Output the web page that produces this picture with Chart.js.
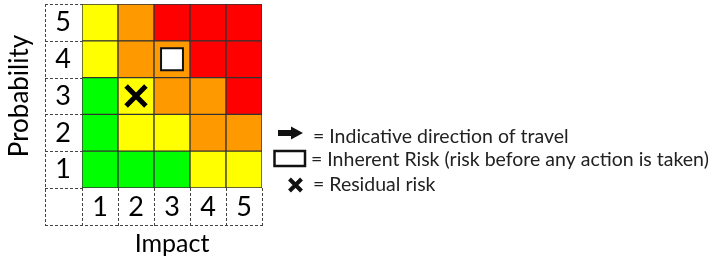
<!DOCTYPE html>
<html lang="en">
<head>
  <meta charset="UTF-8">
  <title>Risk matrix</title>
  <script src="https://cdn.jsdelivr.net/npm/chart.js"></script>
  <style>
    html, body { margin: 0; padding: 0; background: #fff; }
    #chartContainer { position: relative; width: 713px; height: 263px; }
  </style>
</head>
<body>

  <div id="chartContainer">
    <canvas id="riskChart"></canvas>
  </div>

  <script>
    // axis categories
    const impactLabels = ['1', '2', '3', '4', '5'];
    const probabilityLabels = ['1', '2', '3', '4', '5'];

    // rating of each cell, one list per probability row, impact 1 -> 5
    const prob1 = ['low', 'low', 'low', 'medium', 'medium'];
    const prob2 = ['low', 'medium', 'medium', 'high', 'high'];
    const prob3 = ['low', 'medium', 'high', 'high', 'severe'];
    const prob4 = ['medium', 'high', 'high', 'severe', 'severe'];
    const prob5 = ['medium', 'high', 'severe', 'severe', 'severe'];
    const ratingColours = { low: '#00ff00', medium: '#ffff00', high: '#ff9900', severe: '#ff0000' };

    // where the risk sits
    const inherentRisk = { impact: '3', probability: 4 };
    const residualRisk = { impact: '2', probability: 3 };

    const legendTexts = [
      '= Indicative direction of travel',
      '= Inherent Risk (risk before any action is taken)',
      '= Residual risk'
    ];

    const FONT = 'Lato, "DejaVu Sans", sans-serif';
    const rows = [prob1, prob2, prob3, prob4, prob5];

    // one stacked bar per probability row, each one probability step tall
    const cellDatasets = rows.map((row, i) => ({
      type: 'bar',
      label: 'Probability ' + probabilityLabels[i],
      data: impactLabels.map(() => 1),
      backgroundColor: row.map(r => ratingColours[r]),
      borderColor: '#333',
      borderWidth: 1,
      borderSkipped: false,
      barPercentage: 1,
      categoryPercentage: 1,
      yAxisID: 'y',
      order: 2
    }));

    const markerDatasets = [
      {
        type: 'scatter',
        label: 'Inherent Risk',
        data: [{ x: inherentRisk.impact, y: inherentRisk.probability - 0.5 }],
        pointStyle: 'rect',
        pointRadius: 15.5,
        backgroundColor: '#fff',
        borderColor: '#111',
        borderWidth: 2,
        yAxisID: 'yMark',
        order: 1
      },
      {
        type: 'scatter',
        label: 'Residual risk',
        data: [{ x: residualRisk.impact, y: residualRisk.probability - 0.5 }],
        pointStyle: 'crossRot',
        pointRadius: 14,
        borderColor: '#000',
        borderWidth: 5,
        yAxisID: 'yMark',
        order: 1
      }
    ];

    // dashed boxes round the axis labels
    const labelBoxes = {
      id: 'labelBoxes',
      afterDraw(chart) {
        const ctx = chart.ctx;
        const a = chart.chartArea;
        const y = chart.scales.y;
        const boxLeft = a.left - 37;
        const boxBottom = a.bottom + 38;
        const cellW = (a.right - a.left) / impactLabels.length;
        ctx.save();
        ctx.strokeStyle = '#444';
        ctx.lineWidth = 1;
        ctx.setLineDash([3, 2]);
        ctx.beginPath();
        for (let k = 0; k <= probabilityLabels.length; k++) {
          const py = Math.round(y.getPixelForValue(k)) + 0.5;
          ctx.moveTo(boxLeft, py);
          ctx.lineTo(a.left, py);
        }
        ctx.moveTo(boxLeft + 0.5, a.top);
        ctx.lineTo(boxLeft + 0.5, boxBottom);
        ctx.moveTo(boxLeft, boxBottom - 0.5);
        ctx.lineTo(a.right, boxBottom - 0.5);
        for (let i = 0; i <= impactLabels.length; i++) {
          const px = Math.round(a.left + i * cellW) + 0.5;
          ctx.moveTo(px, a.bottom);
          ctx.lineTo(px, boxBottom);
        }
        ctx.stroke();
        ctx.restore();
      }
    };

    // legend on the right
    const keyLegend = {
      id: 'keyLegend',
      afterDraw(chart) {
        const ctx = chart.ctx;
        const rowY = [136.5, 160, 185];
        const textX = [313, 311, 313];
        ctx.save();
        ctx.fillStyle = '#111';
        ctx.strokeStyle = '#111';

        // arrow
        const ay = 133;
        ctx.beginPath();
        ctx.moveTo(278, ay - 3);
        ctx.lineTo(291, ay - 3);
        ctx.lineTo(291, ay - 6.5);
        ctx.lineTo(303, ay);
        ctx.lineTo(291, ay + 6.5);
        ctx.lineTo(291, ay + 3);
        ctx.lineTo(278, ay + 3);
        ctx.closePath();
        ctx.fill();

        // rectangle
        ctx.lineWidth = 2.5;
        ctx.fillStyle = '#fff';
        ctx.fillRect(274.5, 151, 30.5, 15);
        ctx.strokeRect(274.5, 151, 30.5, 15);

        // cross
        ctx.lineWidth = 4;
        ctx.beginPath();
        ctx.moveTo(289.5, 179);
        ctx.lineTo(301.5, 191);
        ctx.moveTo(301.5, 179);
        ctx.lineTo(289.5, 191);
        ctx.stroke();

        ctx.fillStyle = '#222';
        ctx.font = '19.5px ' + FONT;
        ctx.textBaseline = 'middle';
        ctx.textAlign = 'left';
        legendTexts.forEach((t, i) => ctx.fillText(t, textX[i], rowY[i]));
        ctx.restore();
      }
    };

    new Chart(document.getElementById('riskChart'), {
      type: 'bar',
      data: {
        labels: impactLabels,
        datasets: cellDatasets.concat(markerDatasets)
      },
      options: {
        responsive: true,
        maintainAspectRatio: false,
        animation: false,
        layout: { autoPadding: false, padding: { left: 0, top: 4, right: 451, bottom: 0 } },
        plugins: {
          legend: { display: false },
          tooltip: { enabled: false }
        },
        scales: {
          x: {
            type: 'category',
            stacked: true,
            offset: true,
            grid: { display: false, drawTicks: false },
            border: { display: false },
            ticks: { color: '#000', padding: 3, font: { family: FONT, size: 27 } },
            title: { display: true, text: 'Impact', color: '#000', font: { family: FONT, size: 25 } },
            afterFit(scale) {
              scale.height = 75;
              scale.paddingLeft = 0;
              scale.paddingRight = 0;
            }
          },
          y: {
            type: 'linear',
            stacked: true,
            min: 0,
            max: probabilityLabels.length,
            grid: { display: false, drawTicks: false },
            border: { display: false },
            afterBuildTicks(scale) {
              scale.ticks = probabilityLabels.map((l, i) => ({ value: i + 0.5 }));
            },
            ticks: {
              color: '#000',
              padding: 11,
              font: { family: FONT, size: 27 },
              callback: (v) => probabilityLabels[Math.floor(v)]
            },
            title: { display: true, text: 'Probability', color: '#000', font: { family: FONT, size: 26 } },
            afterFit(scale) {
              scale.width = 82;
              scale.paddingTop = 0;
              scale.paddingBottom = 0;
            }
          },
          yMark: {
            type: 'linear',
            display: false,
            min: 0,
            max: probabilityLabels.length
          }
        }
      },
      plugins: [labelBoxes, keyLegend]
    });
  </script>

</body>
</html>
